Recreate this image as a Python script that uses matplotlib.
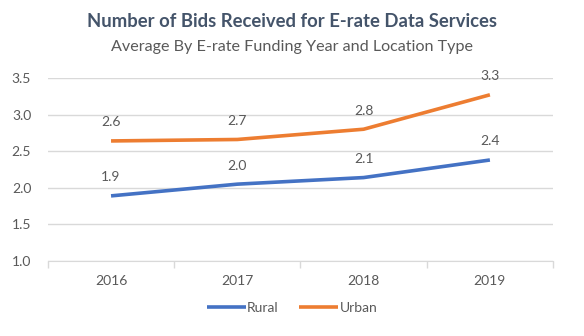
import numpy as np
import matplotlib.pyplot as plt

plt.rcParams['font.family'] = ['Lato', 'DejaVu Sans']

#- Data:
years = ['2016', '2017', '2018', '2019']
rural = [1.89, 2.05, 2.14, 2.38]
urban = [2.64, 2.66, 2.80, 3.27]

text_col = '#595959'
grid_col = '#D9D9D9'

fig = plt.figure(figsize=(5.84, 3.36), dpi=100)
ax = fig.add_axes([0.082, 0.223, 0.865, 0.545])

x = np.arange(len(years))
ax.plot(x, rural, color='#4472C4', lw=2.6, label='Rural', solid_capstyle='butt')
ax.plot(x, urban, color='#ED7D31', lw=2.6, label='Urban', solid_capstyle='butt')

for xi, v in zip(x, rural):
    ax.annotate(f'{v:.1f}', (xi, v), xytext=(0, 9), textcoords='offset points',
                ha='center', va='bottom', fontsize=10, color=text_col)
for xi, v in zip(x, urban):
    ax.annotate(f'{v:.1f}', (xi, v), xytext=(0, 9), textcoords='offset points',
                ha='center', va='bottom', fontsize=10, color=text_col)

ax.set_xlim(-0.5, len(years) - 0.5)
ax.set_ylim(1.0, 3.5)
ax.set_yticks(np.arange(1.0, 3.51, 0.5))
ax.set_yticklabels([f'{t:.1f}' for t in np.arange(1.0, 3.51, 0.5)])
ax.set_xticks(x)
ax.set_xticklabels(years)
ax.set_xticks(np.arange(-0.5, len(years), 1), minor=True)
ax.tick_params(axis='x', which='major', length=0, pad=10, labelsize=10, colors=text_col)
ax.tick_params(axis='x', which='minor', length=5, color=grid_col, width=1)
ax.tick_params(axis='y', length=0, pad=12, labelsize=10, colors=text_col)
ax.grid(axis='y', color=grid_col, lw=1)
ax.set_axisbelow(True)
for s in ['top', 'right', 'left']:
    ax.spines[s].set_visible(False)
ax.spines['bottom'].set_color(grid_col)

fig.text(0.5, 0.935, 'Number of Bids Received for E-rate Data Services',
         ha='center', va='center', fontsize=13.3, fontweight='bold', color='#44546A')
fig.text(0.5, 0.86, 'Average By E-rate Funding Year and Location Type',
         ha='center', va='center', fontsize=11.6, color=text_col)

fig.legend(loc='center', bbox_to_anchor=(0.5, 0.083), ncol=2, frameon=False,
           fontsize=10, labelcolor=text_col, handlelength=2.8, handletextpad=0.1,
           columnspacing=1.5)

fig.savefig('out.png', dpi=100)
